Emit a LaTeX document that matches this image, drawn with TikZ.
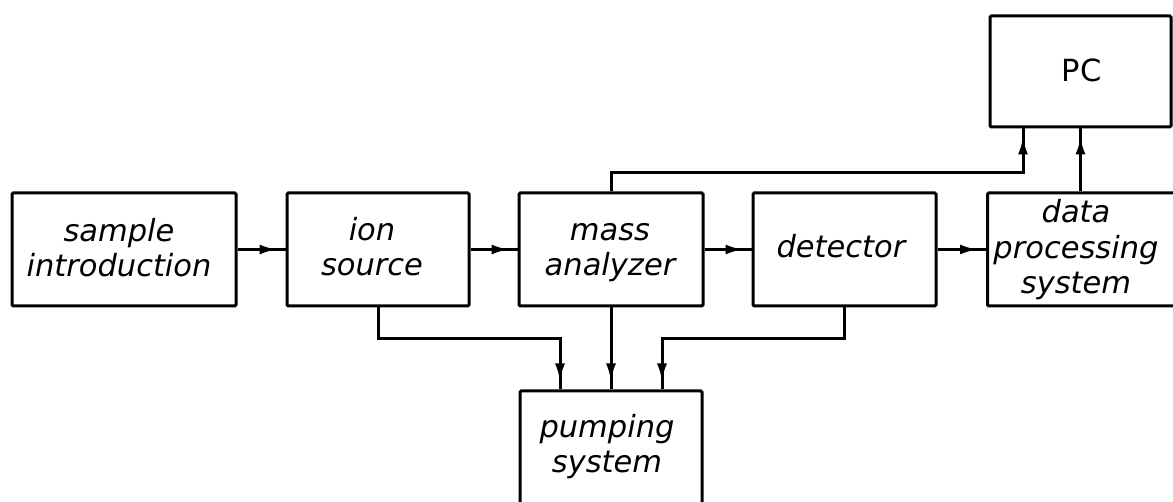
\documentclass[tikz,border=0pt]{standalone}
\usepackage{fontspec}
\setmainfont{DejaVu Sans}
\usetikzlibrary{arrows.meta,decorations.markings}
\begin{document}
\begin{tikzpicture}[x=1pt,y=-1pt,
  box/.style={draw, line width=3pt, rounded corners=1.2pt, rectangle, inner sep=0pt},
  txt/.style={align=center, inner sep=0pt, font=\fontsize{30.5}{35.5}\selectfont\itshape},
  flow/.style={line width=3pt, postaction={decorate},
    decoration={markings, mark=at position -8pt with {\arrow[line width=3pt]{Latex[length=18pt,width=10pt]}}}}
]
\useasboundingbox (0,0) rectangle (1173,502);
\clip (0,0) rectangle (1173,502);
% boxes
\node[box, minimum width=224pt, minimum height=113pt] (sample) at (124,249.5) {};
\node[box, minimum width=182pt, minimum height=113pt] (ion) at (378,249.5) {};
\node[box, minimum width=184pt, minimum height=113pt] (mass) at (611,249.5) {};
\node[box, minimum width=183pt, minimum height=113pt] (det) at (844.5,249.5) {};
\node[box, minimum width=200pt, minimum height=113pt, anchor=west] (dps) at (986,249.5) {};
\node[box, minimum width=181pt, minimum height=111pt] (pc) at (1080.5,71.5) {};
\node[box, minimum width=182pt, minimum height=114pt] (pump) at (611,448) {};
% texts
\node[txt] (tsample) at (119,252) {\strut sample\\introduction\strut};
\node[txt] (tion) at (372,251) {\strut ion\\source\strut};
\node[txt] (tmass) at (610,251) {\strut mass\\analyzer\strut};
\node[txt] (tdet) at (841,250.8) {\strut detector\strut};
\node[txt] (tdps) at (1076,251.3) {\strut data\\processing\\system\strut};
\node[txt, font=\fontsize{30.5}{35.5}\selectfont] (tpc) at (1081.5,74.8) {\strut PC\strut};
\node[txt] (tpump) at (607,447.8) {\strut pumping\\system\strut};
% coordinates
\coordinate (mp) at (1023,173);
\coordinate (pl) at (560,339);
\coordinate (pr) at (662,339);
% connectors
\draw[flow] (sample.east) -- (ion.west);
\draw[flow] (ion.east) -- (mass.west);
\draw[flow] (mass.east) -- (det.west);
\draw[flow] (det.east) -- (dps.west);
\draw[flow] (mass.north) -- (mass.north |- mp) -- (mp) -- (mp |- pc.south);
\draw[flow] (pc.south |- dps.north) -- (pc.south);
\draw[flow] (ion.south) -- (ion.south |- pl) -- (pl) -- (pl |- pump.north);
\draw[flow] (mass.south) -- (pump.north);
\draw[flow] (det.south) -- (det.south |- pr) -- (pr) -- (pr |- pump.north);
\end{tikzpicture}
\end{document}
